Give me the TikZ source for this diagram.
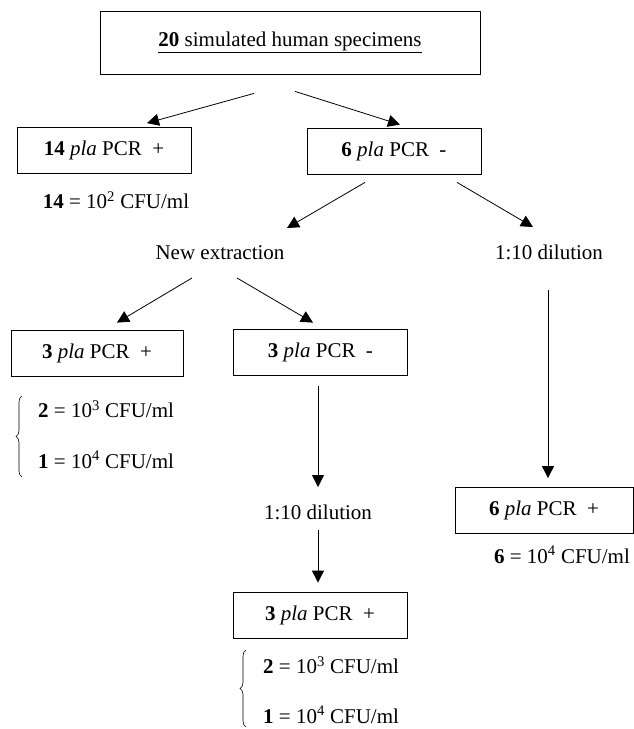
\documentclass[tikz,border=0pt]{standalone}
\usepackage{fontspec}
\setmainfont{Liberation Serif}
\usepackage{tikz}
\usetikzlibrary{arrows.meta, positioning, decorations.pathreplacing}
\tikzset{
  % Box styles
  pcrbox/.style={rectangle, draw=black, line width=0.8pt, minimum width=174pt, minimum height=46pt, inner sep=0pt, font=\fontsize{21}{25}\selectfont, align=center},
  % Text styles
  plaintext/.style={inner sep=0pt, font=\fontsize{21}{25}\selectfont, align=center},
  % Arrow styles
  arrow/.style={-{Triangle[length=12pt,width=12pt]}, line width=0.8pt, black},
  bracket/.style={decorate, decoration={brace, amplitude=6pt}, line width=0.6pt}
}

\begin{document}
\begin{tikzpicture}[x=1pt, y=-1pt]
  \useasboundingbox (0,0) rectangle (634,729);

  % Specimens
  \node[pcrbox, minimum width=380pt, minimum height=63pt] (specimens) at (290,42.5) {\underline{\textbf{20} simulated human specimens}};

  % First PCR
  \node[pcrbox] (pos14) at (104,150.5) {\textbf{14} \textit{pla} PCR~~+};
  \node[plaintext] (res14) at (116,200) {\textbf{14} = 10\textsuperscript{2} CFU/ml};
  \node[pcrbox] (neg6) at (394,151) {\textbf{6} \textit{pla} PCR~~-};

  % Left branch: new extraction
  \node[plaintext] (newext) at (220,253) {New extraction};
  \node[pcrbox, minimum width=172pt] (pos3a) at (97,353) {\textbf{3} \textit{pla} PCR~~+};
  \node[pcrbox] (neg3) at (320.5,352.5) {\textbf{3} \textit{pla} PCR~~-};
  \node[plaintext, anchor=west] (res2a) at (38,409) {\textbf{2} = 10\textsuperscript{3} CFU/ml};
  \node[plaintext, anchor=west] (res1a) at (38,460) {\textbf{1} = 10\textsuperscript{4} CFU/ml};

  \node[plaintext] (dilmid) at (318,512) {1:10 dilution};
  \node[pcrbox] (pos3b) at (320,615) {\textbf{3} \textit{pla} PCR~~+};
  \node[plaintext, anchor=west] (res2b) at (263,665) {\textbf{2} = 10\textsuperscript{3} CFU/ml};
  \node[plaintext, anchor=west] (res1b) at (263,715) {\textbf{1} = 10\textsuperscript{4} CFU/ml};

  % Right branch: dilution
  \node[plaintext] (dilright) at (549,252) {1:10 dilution};
  \node[pcrbox, minimum width=178pt] (pos6) at (544,510.5) {\textbf{6} \textit{pla} PCR~~+};
  \node[plaintext] (res6) at (562,555) {\textbf{6} = 10\textsuperscript{4} CFU/ml};

  % Arrows
  \draw[arrow] ([shift={(-36,19)}]specimens.south) -- ([shift={(43,-4)}]pos14.north);
  \draw[arrow] ([shift={(5,17)}]specimens.south) -- ([shift={(6,-3)}]neg6.north);
  \draw[arrow] ([shift={(-29,8)}]neg6.south) -- ([shift={(67,-25)}]newext.center);
  \draw[arrow] ([shift={(63,8)}]neg6.south) -- ([shift={(-16,-25)}]dilright.center);
  \draw[arrow] ([shift={(-28,25)}]newext.center) -- ([shift={(20,-7)}]pos3a.north);
  \draw[arrow] ([shift={(17,25)}]newext.center) -- ([shift={(-7.5,-6.5)}]neg3.north);
  \draw[arrow] ([shift={(-2.5,10)}]neg3.south) -- ([shift={(0,-25)}]dilmid.center);
  \draw[arrow] ([shift={(0,18)}]dilmid.center) -- ([shift={(-2,-9)}]pos3b.north);
  \draw[arrow] ([shift={(-1,38)}]dilright.center) -- ([shift={(4,-9)}]pos6.north);

  % Braces
  \draw[bracket] (22,477) -- (22,396);
  \draw[bracket] (246,727) -- (246,650);
\end{tikzpicture}
\end{document}
